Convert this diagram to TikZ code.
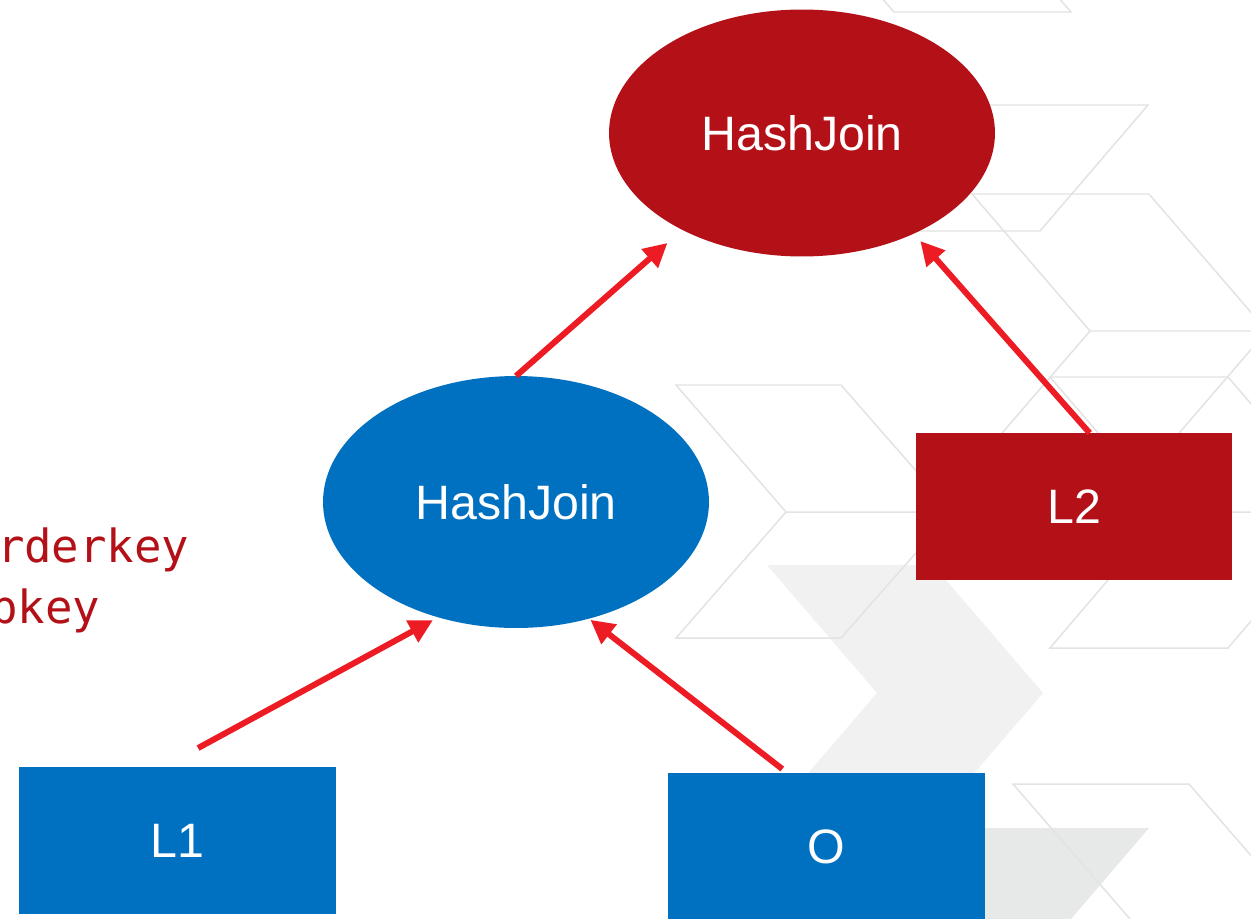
\documentclass[tikz,border=0pt]{standalone}
\usepackage{fontspec}
\setmainfont{Liberation Sans}
\newfontfamily\keymono{DejaVu Sans Mono}
\usetikzlibrary{shapes.geometric,arrows.meta}
\definecolor{jred}{HTML}{B31117}
\definecolor{jblue}{HTML}{0070C0}
\definecolor{ared}{HTML}{ED1C24}
\definecolor{bgline}{HTML}{E3E3E3}
\definecolor{bgfill}{HTML}{F1F1F1}
\definecolor{bgfilltwo}{HTML}{E7E8E8}
\begin{document}
\begin{tikzpicture}[x=0.02cm,y=-0.02cm,
  bgl/.style={draw=bgline,line width=0.85pt,line join=miter},
  joinnode/.style={ellipse,minimum width=7.72cm,inner sep=0pt,outer sep=0pt,text=white,font=\fontsize{27.5}{32}\selectfont},
  tablebox/.style={rectangle,minimum width=6.34cm,minimum height=2.94cm,inner sep=0pt,outer sep=0pt,text=white,font=\fontsize{27.5}{32}\selectfont},
  flow/.style={draw=ared,line width=3.4pt,-{Triangle[length=13.5pt,width=13.5pt]}},
  keytext/.style={text=jred,font=\keymono\fontsize{26}{30}\selectfont,inner sep=0pt,outer sep=0pt,anchor=base west}]
\useasboundingbox (0,0) rectangle (1251,919);
\clip (0,0) rectangle (1251,919);
\fill[white] (0,0) rectangle (1251,919);
% background fills
\fill[bgfill] (767,565) -- (933,565) -- (1043,693) -- (933,821) -- (767,821) -- (877,693) -- cycle;
\fill[bgfilltwo] (900,828) -- (1149,828) -- (1071,919) -- (822,919) -- cycle;
% background outlines
\draw[bgl] (873,-12) -- (894,12) -- (1071,12) -- (1050,-12);
\draw[bgl] (972,105) -- (1148,105) -- (1040,231) -- (864,231) -- cycle;
\draw[bgl] (972,194) -- (1149,194) -- (1267,331) -- (1149,468) -- (972,468) -- (1090,331) -- cycle (1090,331) -- (1267,331);
\draw[bgl] (1050,377) -- (1228,377) -- (1344,512) -- (1228,648) -- (1050,648) -- (1166,512) -- cycle (1166,512) -- (1344,512);
\draw[bgl] (676,385) -- (841,385) -- (952,512) -- (841,638) -- (676,638) -- (786,512) -- cycle (786,512) -- (952,512);
\draw[bgl] (1130,919) -- (1013,784) -- (1189,784) -- (1306,919);
% left key text (cut off at the left edge, as in the reference)
\node[keytext] (k1) at (-3,562) {rderkey};
\node[keytext] (k2) at (-10,623) {pkey};
% nodes
\node[joinnode,fill=jred,minimum height=4.94cm] (hj1) at (802,133) {HashJoin};
\node[joinnode,fill=jblue,minimum height=5.04cm] (hj2) at (516,502) {HashJoin};
\node[tablebox,fill=jblue] (l1) at (177.5,840.5) {L1};
\node[tablebox,fill=jblue] (o) at (826.5,846.5) {O};
\node[tablebox,fill=jred] (l2) at (1074,506.5) {L2};
% connectors
\draw[flow,shorten >=11.3pt] (hj2.north) -- (hj1.219);
\draw[flow,shorten >=5.6pt] (l2.78) -- (hj1.-42);
\draw[flow,shorten <=22.6pt,shorten >=3.4pt] (l1.101) -- (hj2.236);
\draw[flow,shorten <=3.7pt,shorten >=1.1pt] (o.118) -- (hj2.-58);
\end{tikzpicture}
\end{document}
